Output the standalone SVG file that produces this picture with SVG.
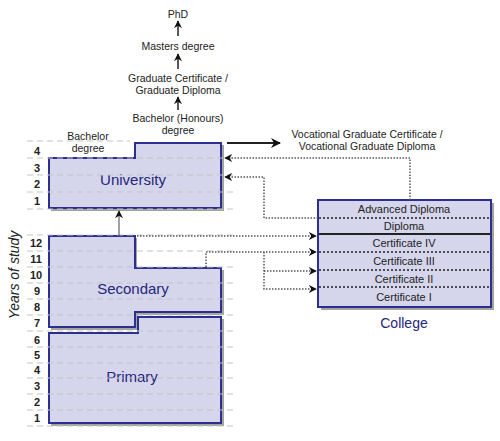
<svg xmlns="http://www.w3.org/2000/svg" width="500" height="441" viewBox="0 0 500 441">
<defs>
<style>
text{font-family:"Liberation Sans",Arial,sans-serif;fill:#222;}
.t{font-size:10.5px;text-anchor:middle;}
.yr{font-size:11px;font-weight:bold;text-anchor:middle;}
.big{font-size:15px;fill:#26267a;text-anchor:middle;}
.cl{font-size:11px;text-anchor:middle;}
.box{fill:#d5d6ec;stroke:#2c2f90;stroke-width:2;}
.shadow{fill:#a4a49c;}
.grid{stroke:#c4c4c8;stroke-width:1;stroke-dasharray:6,4;fill:none;}
.dot{stroke:#555;stroke-width:1.5;stroke-dasharray:1.5,1.5;fill:none;}
.solid{stroke:#222;stroke-width:1.5;fill:none;}
.sep{stroke:#222;stroke-width:1.5;stroke-dasharray:2,2;}
</style>
<marker id="ah" viewBox="0 0 10 10" refX="9" refY="5" markerWidth="8" markerHeight="8" markerUnits="userSpaceOnUse" orient="auto"><path d="M0,0 L10,5 L0,10 L3,5 Z" fill="#111"/></marker>
<marker id="ahb" viewBox="0 0 10 10" refX="9" refY="5" markerWidth="10" markerHeight="10" markerUnits="userSpaceOnUse" orient="auto"><path d="M0,0 L10,5 L0,10 L3,5 Z" fill="#111"/></marker>
</defs>
<rect width="500" height="441" fill="#fff"/>

<g id="years-label">
<text x="19" y="275" transform="rotate(-90 19 275)" style="font-size:14px;font-style:italic;text-anchor:middle;fill:#222">Years of study</text>
</g>

<g id="year-numbers">
<text class="yr" x="37" y="155">4</text>
<text class="yr" x="37" y="172">3</text>
<text class="yr" x="37" y="188">2</text>
<text class="yr" x="37" y="205">1</text>
<text class="yr" x="36" y="247">12</text>
<text class="yr" x="36" y="263">11</text>
<text class="yr" x="36" y="279">10</text>
<text class="yr" x="37" y="295">9</text>
<text class="yr" x="37" y="311">8</text>
<text class="yr" x="37" y="327">7</text>
<text class="yr" x="37" y="344">6</text>
<text class="yr" x="37" y="359">5</text>
<text class="yr" x="37" y="374">4</text>
<text class="yr" x="37" y="390">3</text>
<text class="yr" x="37" y="406">2</text>
<text class="yr" x="37" y="422">1</text>
</g>

<g id="university">
<path class="shadow" d="M51,160 H137 V145 H224 V211 H51 Z"/>
<path class="box" d="M49,158 H135 V143 H221 V208 H49 Z"/>
<text class="big" x="133" y="185">University</text>
</g>

<g id="secondary">
<path class="shadow" d="M51,238 H137 V270 H224 V315 H138 V330 H51 Z"/>
<path class="box" d="M49,236 H135 V268 H221 V312 H135 V327 H49 Z"/>
<text class="big" x="133" y="294">Secondary</text>
</g>

<g id="primary">
<path class="shadow" d="M51,335 H140 V319 H224 V426 H51 Z"/>
<path class="box" d="M49,333 H138 V317 H221 V423 H49 Z"/>
<text class="big" x="132" y="382">Primary</text>
</g>

<g id="gridlines">
<path class="grid" d="M27,141 H130 M27,158 H237 M27,175 H237 M27,192 H237 M27,209 H237 M27,235 H237 M27,251 H237 M27,267 H237 M27,283 H237 M27,299 H237 M27,315 H237 M27,331 H237 M27,347 H237 M27,363 H237 M27,378 H237 M27,394 H237 M27,410 H237 M27,426 H237"/>
</g>

<g id="bachelor">
<text class="t" x="88" y="140">Bachelor</text>
<text class="t" x="88" y="152">degree</text>
</g>

<g id="postgrad">
<text class="t" x="178" y="18">PhD</text>
<text class="t" x="178" y="50">Masters degree</text>
<text class="t" x="178" y="82">Graduate Certificate /</text>
<text class="t" x="178" y="94">Graduate Diploma</text>
<text class="t" x="178" y="122">Bachelor (Honours)</text>
<text class="t" x="178" y="134">degree</text>
<text class="t" x="367" y="138">Vocational Graduate Certificate /</text>
<text class="t" x="367" y="150">Vocational Graduate Diploma</text>
</g>

<g id="college">
<path class="shadow" d="M321,203 H494 V310 H321 Z"/>
<rect class="box" x="318" y="200" width="173" height="107"/>
<line class="sep" x1="319" y1="218" x2="490" y2="218"/>
<line x1="319" y1="234" x2="490" y2="234" stroke="#222" stroke-width="2"/>
<line class="sep" x1="319" y1="252" x2="490" y2="252"/>
<line class="sep" x1="319" y1="270" x2="490" y2="270"/>
<line class="sep" x1="319" y1="287" x2="490" y2="287"/>
<text class="cl" x="404" y="213">Advanced Diploma</text>
<text class="cl" x="404" y="230">Diploma</text>
<text class="cl" x="404" y="247">Certificate IV</text>
<text class="cl" x="404" y="265">Certificate III</text>
<text class="cl" x="404" y="283">Certificate II</text>
<text class="cl" x="404" y="301">Certificate I</text>
<text x="404" y="328" style="font-size:14px;fill:#26267a;text-anchor:middle">College</text>
</g>

<g id="connectors">
<line class="solid" x1="178" y1="36" x2="178" y2="21" marker-end="url(#ah)"/>
<line class="solid" x1="178" y1="69" x2="178" y2="54" marker-end="url(#ah)"/>
<line class="solid" x1="178" y1="110" x2="178" y2="97" marker-end="url(#ah)"/>
<line x1="227" y1="143" x2="280" y2="143" stroke="#222" stroke-width="2" marker-end="url(#ahb)"/>
<line x1="119" y1="236" x2="119" y2="211" stroke="#444" stroke-width="1" marker-end="url(#ah)"/>
<path class="dot" d="M410,200 V158 H225" marker-end="url(#ah)"/>
<path class="dot" d="M318,218 H264 V177 H225" marker-end="url(#ah)"/>
<path class="dot" d="M137,236 H316" marker-end="url(#ah)"/>
<path class="dot" d="M206,267 V252 H316" marker-end="url(#ah)"/>
<path class="dot" d="M264,252 V289 H316" marker-end="url(#ah)"/>
<path class="dot" d="M264,271 H316" marker-end="url(#ah)"/>
</g>
</svg>
